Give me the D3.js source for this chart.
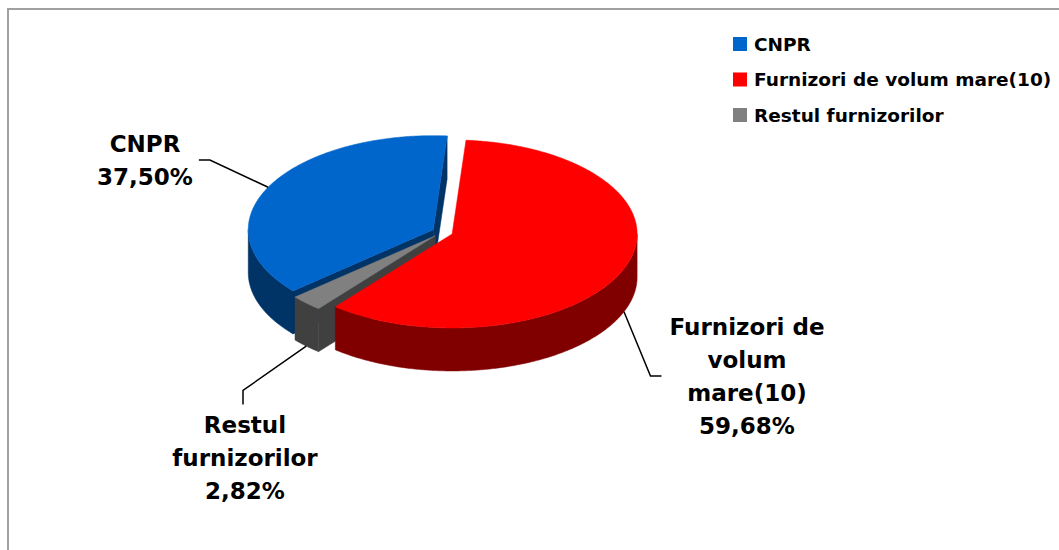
<!DOCTYPE html>
<html>
<head>
<meta charset="utf-8">
<script src="https://cdn.jsdelivr.net/npm/d3@7"></script>
<style>
  body { margin: 0; background: #fff; }
  svg { display: block; }
  text { font-family: "DejaVu Sans", Verdana, sans-serif; font-weight: bold; fill: #000; }
</style>
</head>
<body>
<svg id="chart" width="1059" height="550"></svg>
<script>
// --- Data ---
const categories = ["CNPR", "Furnizori de volum mare(10)", "Restul furnizorilor"];
const shares = [37.50, 59.68, 2.82];
const labelNames = [["CNPR"], ["Furnizori de", "volum", "mare(10)"], ["Restul", "furnizorilor"]];
const topColors = ["#0066CC", "#FF0000", "#808080"];
const sideColors = ["#003366", "#800000", "#404040"];

// --- Layout ---
const width = 1059, height = 550;
const cx = 442.5, cy = 232;      // pie centre (top face)
const rx = 185, ry = 94;         // ellipse radii of the tilted pie
const depth = 43;                // thickness of the pie
const explode = 0.056;           // radial offset, fraction of radius
const firstSliceDeg = 229.3;     // where the first slice (CNPR) starts, clockwise from 12 o'clock
const lineHeight = 33;

const svg = d3.select("#chart");
const fmt = v => d3.format(".2f")(v).replace(".", ",") + "%";

// chart area border (only top/left edges fall inside the window)
svg.append("rect")
    .attr("x", 8).attr("y", 9)
    .attr("width", width + 40).attr("height", height + 40)
    .attr("fill", "none")
    .attr("stroke", "#a0a0a0")
    .attr("stroke-width", 2);

const pie = d3.pie()
    .sort(null)
    .value(d => d)
    .startAngle(firstSliceDeg * Math.PI / 180)
    .endAngle(firstSliceDeg * Math.PI / 180 + 2 * Math.PI);

const arcs = pie(shares).map((a, i) => {
    const mid = (a.startAngle + a.endAngle) / 2;
    return Object.assign(a, {
        i,
        mid,
        off: [explode * rx * Math.sin(mid), -explode * ry * Math.cos(mid)]
    });
});

function rim(a, off, dy) {
    return [cx + off[0] + rx * Math.sin(a), cy + off[1] - ry * Math.cos(a) + (dy || 0)];
}
function arcPts(a0, a1, off, dy) {
    const n = Math.max(2, Math.ceil((a1 - a0) / 0.01));
    return d3.range(n + 1).map(k => rim(a0 + (a1 - a0) * k / n, off, dy));
}
const line = d3.line();
const poly = pts => line(pts) + "Z";

const pieG = svg.append("g");

// paint slices left to right so the front ones cover the back ones
arcs.slice().sort((a, b) => Math.sin(a.mid) - Math.sin(b.mid)).forEach(s => {
    const g = pieG.append("g");
    const off = s.off;
    const apex = [cx + off[0], cy + off[1]];
    const apexLow = [apex[0], apex[1] + depth];
    const a0 = s.startAngle, a1 = s.endAngle;

    // radial faces
    if (Math.sin(a0) < 0) {
        const p = rim(a0, off), q = rim(a0, off, depth);
        g.append("path").attr("d", poly([apex, p, q, apexLow]))
            .attr("fill", sideColors[s.i]).attr("stroke", sideColors[s.i]).attr("stroke-width", 0.5);
    }
    if (Math.sin(a1) > 0) {
        const p = rim(a1, off), q = rim(a1, off, depth);
        g.append("path").attr("d", poly([apex, p, q, apexLow]))
            .attr("fill", sideColors[s.i]).attr("stroke", sideColors[s.i]).attr("stroke-width", 0.5);
    }

    // outer wall, only the half that faces the viewer
    for (let k = -1; k <= 2; k++) {
        const lo = Math.max(a0, Math.PI / 2 + 2 * Math.PI * k);
        const hi = Math.min(a1, 3 * Math.PI / 2 + 2 * Math.PI * k);
        if (hi > lo) {
            const pts = arcPts(lo, hi, off, 0).concat(arcPts(lo, hi, off, depth).reverse());
            g.append("path").attr("d", poly(pts))
                .attr("fill", sideColors[s.i]).attr("stroke", sideColors[s.i]).attr("stroke-width", 0.5);
        }
    }

    // top face
    g.append("path").attr("d", poly([apex].concat(arcPts(a0, a1, off, 0))))
        .attr("fill", topColors[s.i]).attr("stroke", topColors[s.i]).attr("stroke-width", 0.5);
});

// --- Data labels with leader lines ---
const labelSpots = [
    { x: 145, y: 160, side: "left" },
    { x: 747, y: 376, side: "right" },
    { x: 245, y: 458, side: "below" }
];

arcs.forEach(s => {
    const spot = labelSpots[s.i];
    const lines = labelNames[s.i].concat([fmt(shares[s.i])]);
    const first = spot.y - (lines.length - 1) * lineHeight / 2 + 8.4;
    const t = svg.append("text")
        .attr("text-anchor", "middle")
        .attr("font-size", 23);
    lines.forEach((l, k) => {
        t.append("tspan").attr("x", spot.x).attr("y", first + k * lineHeight).text(l);
    });
    const bb = t.node().getBBox();

    const front = Math.cos(s.mid) < 0;
    const start = rim(s.mid, s.off, front ? depth : 0);
    let elbow, end;
    if (spot.side === "left") {
        end = [bb.x + bb.width + 6, spot.y];
        elbow = [end[0] + 11, spot.y];
    } else if (spot.side === "right") {
        end = [bb.x - 8, spot.y];
        elbow = [end[0] - 11, spot.y];
    } else {
        end = [spot.x - 2, bb.y - 8];
        elbow = [spot.x - 2, end[1] - 14];
    }
    svg.append("path")
        .attr("d", d3.line()([start, elbow, end]))
        .attr("fill", "none")
        .attr("stroke", "#000")
        .attr("stroke-width", 1.5);
});

// --- Legend ---
const legend = svg.append("g").attr("transform", "translate(733,37)");
const row = legend.selectAll("g")
    .data(categories)
    .join("g")
    .attr("transform", (d, i) => `translate(0,${i * 35.5})`);
row.append("rect")
    .attr("width", 14).attr("height", 14)
    .attr("fill", (d, i) => topColors[i]);
row.append("text")
    .attr("x", 21).attr("y", 13.5)
    .attr("font-size", 18.5)
    .text(d => d);
</script>
</body>
</html>
